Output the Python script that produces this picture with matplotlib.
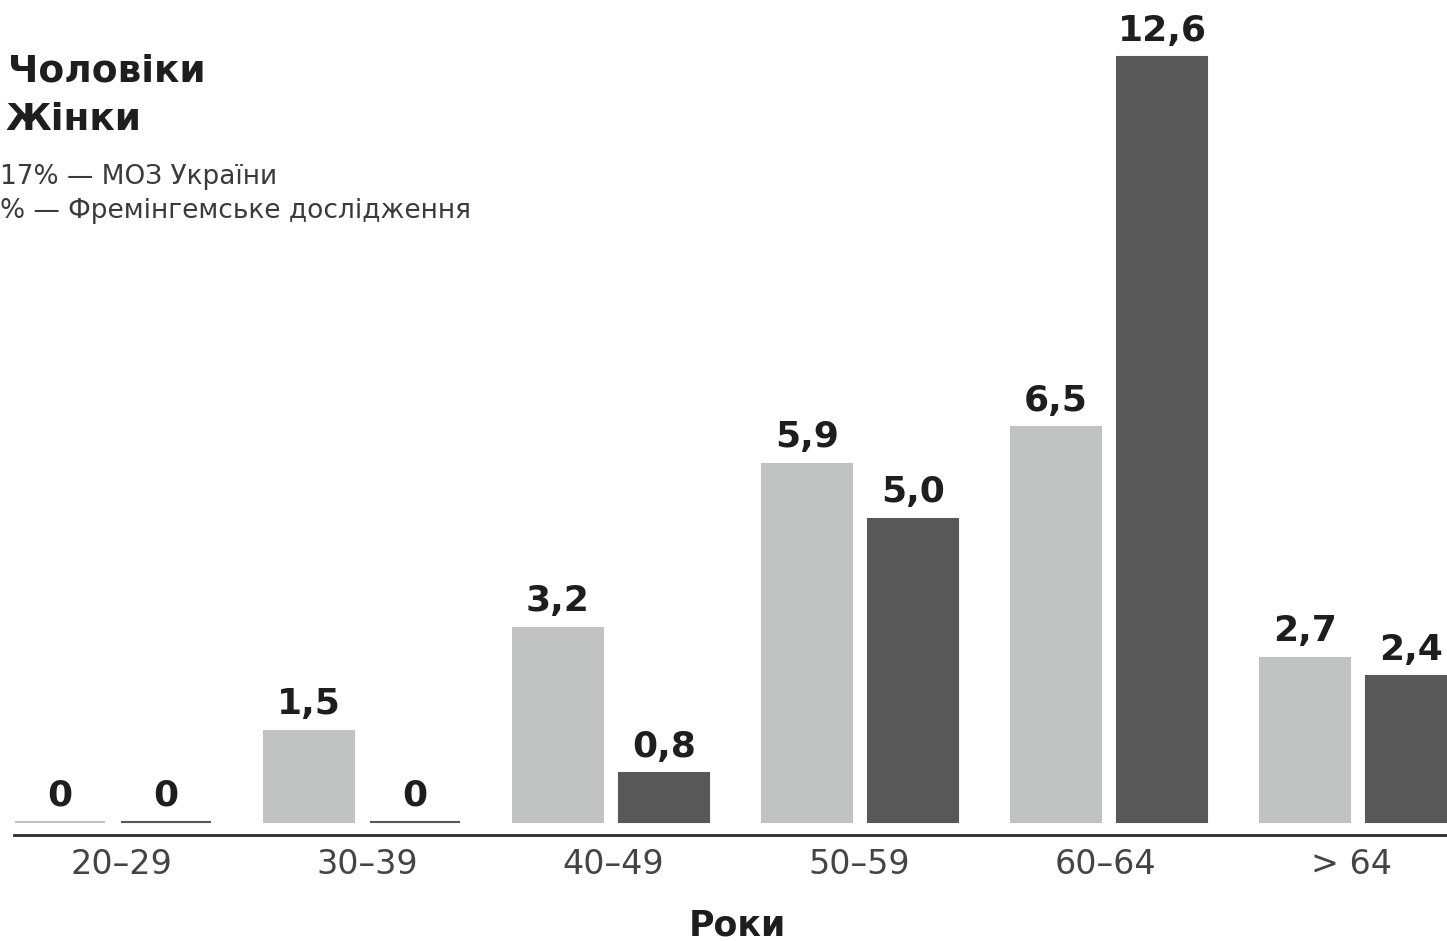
import matplotlib.pyplot as plt
import numpy as np

plt.rcParams['font.family'] = ['DejaVu Sans']

age_groups = ['20–29', '30–39', '40–49', '50–59', '60–64', '> 64']
men = [0, 1.5, 3.2, 5.9, 6.5, 2.7]
women = [0, 0, 0.8, 5.0, 12.6, 2.4]
men_labels = ['0', '1,5', '3,2', '5,9', '6,5', '2,7']
women_labels = ['0', '0', '0,8', '5,0', '12,6', '2,4']

W, H = 1447, 941
fig = plt.figure(figsize=(W / 100, H / 100), dpi=100)
ax = fig.add_axes([0, 0, 1, 1])

light = '#c1c3c2'
dark = '#585858'
offset = 0.213
width = 0.365
x = np.arange(len(age_groups))

ax.bar(x - offset, men, width, color=light, edgecolor=light, linewidth=1.5)
ax.bar(x + offset, women, width, color=dark, edgecolor=dark, linewidth=1.5)

for xi, v, lab in zip(x, men, men_labels):
    ax.annotate(lab, (xi - offset, v), xytext=(0, 12), textcoords='offset points',
                ha='center', va='baseline', fontsize=26, fontweight='bold', color='#1e1e1e')
for xi, v, lab in zip(x, women, women_labels):
    ax.annotate(lab, (xi + offset, v), xytext=(0, 12), textcoords='offset points',
                ha='center', va='baseline', fontsize=26, fontweight='bold', color='#1e1e1e')

# pixel layout: group centre at 113 + 249*i, zero line at y=822, 60.7 px per unit
ax.set_xlim(-113 / 249, (W - 113) / 249)
ax.set_ylim((822 - H) / 60.7, 822 / 60.7)
ax.axhline(-13 / 60.7, xmin=14 / W, xmax=1, color='#2a2a2a', linewidth=2)

# category labels sit on a slightly tighter pitch than the bars
for xi, lab in zip(x, age_groups):
    ax.text((8 + 246.2 * xi) / 249, -43 / 60.7, lab, ha='center', va='center',
            fontsize=24, color='#444444')

ax.axis('off')

fig.text(737 / W, 1 - 925 / H, 'Роки', ha='center', va='center',
         fontsize=25, fontweight='bold', color='#1e1e1e')
fig.text(8 / W, 1 - 71 / H, 'Чоловіки', ha='left', va='center',
         fontsize=27, fontweight='bold', color='#1e1e1e')
fig.text(6 / W, 1 - 120 / H, 'Жінки', ha='left', va='center',
         fontsize=27, fontweight='bold', color='#1e1e1e')
fig.text(0 / W, 1 - 177 / H, '17% — МОЗ України', ha='left', va='center',
         fontsize=19, color='#3a3a3a')
fig.text(0 / W, 1 - 211 / H, '% — Фремінгемське дослідження', ha='left', va='center',
         fontsize=19, color='#3a3a3a')

fig.savefig('out.png', dpi=100)
